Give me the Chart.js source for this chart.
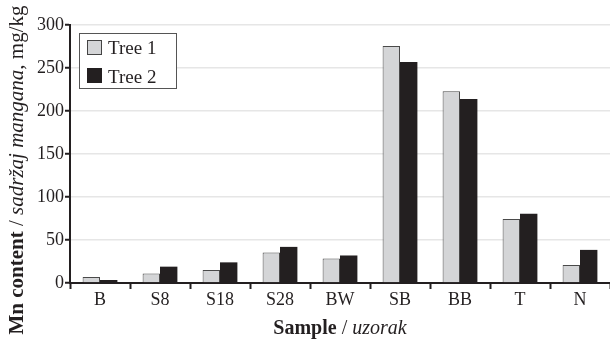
<!DOCTYPE html>
<html>
<head>
<meta charset="utf-8">
<script src="https://cdn.jsdelivr.net/npm/chart.js@4.4.0/dist/chart.umd.min.js"></script>
<style>
  html, body { margin: 0; padding: 0; background: #fff; }
  #wrap { width: 610px; height: 342px; position: relative; }
</style>
</head>
<body>
<div id="wrap"><canvas id="c" width="610" height="342"></canvas></div>
<script>
const categories = ['B', 'S8', 'S18', 'S28', 'BW', 'SB', 'BB', 'T', 'N'];
const tree1 = [7, 11, 15, 35.5, 28.5, 275.5, 223, 74.5, 21];
const tree2 = [3.5, 19, 24, 42, 32, 257, 214, 80.5, 38.5];
const seriesLabels = ['Tree 1', 'Tree 2'];
const yMin = 0, yMax = 300, yStep = 50;

const FONT = "'Liberation Serif', 'Times New Roman', serif";
const INK = '#231f20';

const customText = {
  id: 'customText',
  afterDraw(chart) {
    const ctx = chart.ctx;
    const area = chart.chartArea;
    ctx.save();
    ctx.fillStyle = INK;
    ctx.textBaseline = 'alphabetic';

    // Legend box
    const lx = 79.5, ly = 33.5, lw = 97, lh = 55;
    ctx.fillStyle = '#fff';
    ctx.fillRect(lx, ly, lw, lh);
    ctx.strokeStyle = '#555';
    ctx.lineWidth = 1;
    ctx.strokeRect(lx, ly, lw, lh);
    const ds = chart.data.datasets;
    const rows = [{y: 40, base: 54}, {y: 68, base: 83}];
    ds.forEach((d, i) => {
      ctx.fillStyle = d.backgroundColor;
      ctx.fillRect(87.5, rows[i].y + 0.5, 14, 14);
      ctx.strokeStyle = i === 0 ? '#444' : INK;
      ctx.strokeRect(87.5, rows[i].y + 0.5, 14, 14);
      ctx.fillStyle = INK;
      ctx.font = '19px ' + FONT;
      ctx.textAlign = 'left';
      ctx.fillText(d.label, 108, rows[i].base);
    });

    function measure(pieces) {
      let total = 0;
      pieces.forEach(p => { ctx.font = p.font; p.w = ctx.measureText(p.t).width; total += p.w; });
      return total;
    }
    // X title
    const xp = [
      {t: 'Sample', font: 'bold 20px ' + FONT},
      {t: ' / ', font: '20px ' + FONT},
      {t: 'uzorak', font: 'italic 20px ' + FONT}
    ];
    let tw = measure(xp);
    let x = (area.left + area.right) / 2 - tw / 2;
    ctx.textAlign = 'left';
    xp.forEach(p => { ctx.font = p.font; ctx.fillText(p.t, x, 334); x += p.w; });

    // Y title (rotated)
    const yp = [
      {t: 'Mn content', font: 'bold 21px ' + FONT},
      {t: ' / ', font: '21px ' + FONT},
      {t: 'sadržaj mangana', font: 'italic 21px ' + FONT},
      {t: ', mg/kg', font: '21px ' + FONT}
    ];
    tw = measure(yp);
    ctx.translate(23, 170);
    ctx.rotate(-Math.PI / 2);
    let s = -tw / 2;
    yp.forEach(p => { ctx.font = p.font; ctx.fillText(p.t, s, 0); s += p.w; });
    ctx.restore();
  }
};

new Chart(document.getElementById('c'), {
  type: 'bar',
  data: {
    labels: categories,
    datasets: [
      {
        label: seriesLabels[0],
        data: tree1,
        backgroundColor: '#d4d5d7',
        borderColor: '#4a4a4a',
        borderWidth: 1,
        borderSkipped: 'bottom'
      },
      {
        label: seriesLabels[1],
        data: tree2,
        backgroundColor: INK,
        borderColor: INK,
        borderWidth: 0
      }
    ]
  },
  options: {
    responsive: false,
    animation: false,
    devicePixelRatio: 1,
    layout: { padding: { top: 25, right: 0, left: 0, bottom: 0 } },
    datasets: { bar: { barPercentage: 1, categoryPercentage: 0.58 } },
    plugins: {
      legend: { display: false },
      tooltip: { enabled: false },
      title: { display: false }
    },
    scales: {
      x: {
        offset: true,
        grid: {
          offset: true,
          drawOnChartArea: false,
          drawTicks: true,
          tickLength: 6,
          tickColor: INK,
          tickWidth: 2
        },
        border: { display: true, color: INK, width: 2 },
        ticks: {
          color: INK,
          font: { family: FONT, size: 18 },
          padding: 0
        },
        afterFit(scale) { scale.height = 59; }
      },
      y: {
        min: yMin,
        max: yMax,
        ticks: {
          stepSize: yStep,
          color: INK,
          font: { family: FONT, size: 18 },
          padding: 1
        },
        grid: {
          color: '#e6e6e6',
          lineWidth: 1.5,
          tickLength: 5,
          tickColor: INK,
          tickWidth: 2,
          drawTicks: true
        },
        border: { display: true, color: INK, width: 2 },
        afterFit(scale) { scale.width = 70; }
      }
    }
  },
  plugins: [customText]
});
</script>
</body>
</html>
